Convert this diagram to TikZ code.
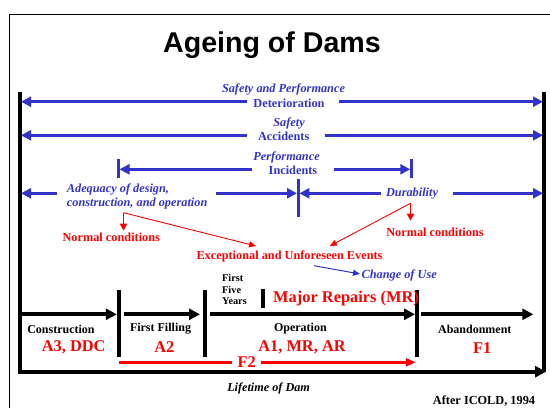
\documentclass[tikz,border=0pt]{standalone}
\usepackage{fontspec}
\setmainfont{Liberation Serif}
\newfontfamily\titlefont{Liberation Sans}
\usetikzlibrary{arrows.meta}
\definecolor{dblue}{RGB}{51,51,204}
\definecolor{dred}{RGB}{255,0,0}
\begin{document}
\begin{tikzpicture}[x=1pt,y=-1pt,
 bit/.style={text=dblue,font=\fontsize{12.3}{14}\selectfont\bfseries\itshape,inner sep=0},
 bup/.style={text=dblue,font=\fontsize{12.3}{14}\selectfont\bfseries,inner sep=0},
 rsm/.style={text=dred,font=\fontsize{12.3}{14}\selectfont\bfseries,inner sep=0},
 rbig/.style={text=dred,font=\fontsize{16.4}{18}\selectfont\bfseries,inner sep=0},
 ksm/.style={text=black,font=\fontsize{12}{14}\selectfont\bfseries,inner sep=0},
 barr/.style={draw=dblue,line width=3pt,-{Triangle[length=10pt,width=10pt]}},
 bbar/.style={draw=dblue,line width=3pt},
 karr/.style={draw=black,line width=4pt,-{Triangle[length=11pt,width=11pt]}},
 kbar/.style={draw=black,line width=4pt},
 rthin/.style={draw=dred,line width=0.9pt,-{Triangle[length=7pt,width=6pt]}},
 rvert/.style={draw=dred,line width=1.6pt,-{Triangle[length=7pt,width=7pt]}},
 rline/.style={draw=dred,line width=2.5pt},
 rarr/.style={draw=dred,line width=2.5pt,-{Triangle[length=10pt,width=8pt]}},
 bthin/.style={draw=dblue,line width=1pt,-{Triangle[length=7pt,width=6pt]}}
]
\useasboundingbox (0,0) rectangle (550,408);
% frame
\draw[line width=1pt] (9.5,408) -- (9.5,14.5) -- (550,14.5);
% title
\node[inner sep=0,anchor=base,font=\titlefont\fontsize{28.6}{30}\selectfont\bfseries] (title) at (272,52.6) {Ageing of Dams};

% main side bars
\coordinate (LT) at (20,92);
\coordinate (LB) at (20,371.7);
\coordinate (RT) at (544,92);
\coordinate (RB) at (544,371.7);
\draw[kbar] (LT) -- (LB);
\draw[kbar] (RT) -- (RB);

% row 1
\node[bit] (sp) at (283.5,89) {Safety and Performance};
\node[bup] (det) at (289,103.3) {Deterioration};
\coordinate (r1a) at (246.7,101.7);
\coordinate (r1b) at (338.6,101.7);
\coordinate (r1l) at (21,101.7);
\coordinate (r1r) at (543,101.7);
\draw[barr] (r1a) -- (r1l);
\draw[barr] (r1b) -- (r1r);

% row 2
\node[bit] (saf) at (289,123.3) {Safety};
\node[bup] (acc) at (283.7,136.7) {Accidents};
\coordinate (r2a) at (246.7,135.3);
\coordinate (r2b) at (324.6,135.3);
\coordinate (r2l) at (21,135.3);
\coordinate (r2r) at (543,135.3);
\draw[barr] (r2a) -- (r2l);
\draw[barr] (r2b) -- (r2r);

% row 3
\node[bit] (perf) at (286.6,157.3) {Performance};
\node[bup] (inc) at (293,170.7) {Incidents};
\coordinate (b3lt) at (118.6,159.3);
\coordinate (b3lb) at (118.6,178.3);
\coordinate (b3rt) at (411.2,159.3);
\coordinate (b3rb) at (411.2,178.3);
\draw[bbar] (b3lt) -- (b3lb);
\draw[bbar] (b3rt) -- (b3rb);
\coordinate (r3a) at (252,169.3);
\coordinate (r3b) at (334,169.3);
\coordinate (r3l) at (119.5,169.3);
\coordinate (r3r) at (410.3,169.3);
\draw[barr] (r3a) -- (r3l);
\draw[barr] (r3b) -- (r3r);

% row 4
\node[bit,align=left,anchor=north west,font=\fontsize{12.3}{14.3}\selectfont\bfseries\itshape] (adq) at (66.7,183.5) {Adequacy of design,\\construction, and operation};
\node[bit] (dur) at (412,193.3) {Durability};
\coordinate (cbt) at (298.2,179.3);
\coordinate (cbb) at (298.2,217.3);
\draw[bbar] (cbt) -- (cbb);
\coordinate (r4a) at (57,193.3);
\coordinate (r4l) at (21,193.3);
\coordinate (r4b) at (215.8,193.3);
\coordinate (r4c) at (297,193.3);
\coordinate (r4d) at (380.7,193.3);
\coordinate (r4e) at (299.4,193.3);
\coordinate (r4f) at (452.6,193.3);
\coordinate (r4r) at (543,193.3);
\draw[barr] (r4a) -- (r4l);
\draw[barr] (r4b) -- (r4c);
\draw[barr] (r4d) -- (r4e);
\draw[barr] (r4f) -- (r4r);

% red conditions
\node[rsm] (nc1) at (111.3,237.7) {Normal conditions};
\node[rsm] (nc2) at (435,232.7) {Normal conditions};
\node[rsm] (exc) at (289.5,256.7) {Exceptional and Unforeseen Events};
\coordinate (BL) at (123.5,212.7);
\coordinate (BLd) at (123.5,230.7);
\coordinate (BLe) at (256,246);
\coordinate (BR) at (410.5,203.3);
\coordinate (BRd) at (410.5,220.7);
\coordinate (BRe) at (329.8,246);
\draw[rvert] (BL) -- (BLd);
\draw[rthin] (BL) -- (BLe);
\draw[rvert] (BR) -- (BRd);
\draw[rthin] (BR) -- (BRe);

% change of use
\node[bit,anchor=west] (cou) at (361.4,275) {Change of Use};
\coordinate (cu1) at (314,265.7);
\coordinate (cu2) at (360,274);
\draw[bthin] (cu1) -- (cu2);

% timeline
\coordinate (t1t) at (118.6,290); \coordinate (t1b) at (118.6,357.3);
\coordinate (t2t) at (205.3,290); \coordinate (t2b) at (205.3,357.3);
\coordinate (t3t) at (416.8,290); \coordinate (t3b) at (416.8,357.3);
\coordinate (t4t) at (262.5,289.3); \coordinate (t4b) at (262.5,308.3);
\draw[kbar] (t1t) -- (t1b);
\draw[kbar] (t2t) -- (t2b);
\draw[kbar] (t3t) -- (t3b);
\draw[kbar] (t4t) -- (t4b);
\coordinate (a1s) at (20,314.3); \coordinate (a1e) at (116.8,314.3);
\coordinate (a2s) at (123.5,314.3); \coordinate (a2e) at (200,314.3);
\coordinate (a3s) at (209.8,314.3); \coordinate (a3e) at (415,314.3);
\coordinate (a4s) at (421,314.3); \coordinate (a4e) at (533.3,314.3);
\draw[karr] (a1s) -- (a1e);
\draw[karr] (a2s) -- (a2e);
\draw[karr] (a3s) -- (a3e);
\draw[karr] (a4s) -- (a4e);

\node[ksm,align=left,anchor=north west,font=\fontsize{10.3}{11.7}\selectfont\bfseries] (ffy) at (222,274) {First\\Five\\Years};
\node[rbig,anchor=west] (mr) at (273,299) {Major Repairs (MR)};

\node[ksm] (con) at (61,329) {Construction};
\node[ksm] (ff) at (160.5,329) {First Filling};
\node[ksm] (op) at (300.4,329) {Operation};
\node[ksm] (ab) at (474.8,329.3) {Abandonment};
\node[rbig] (a3) at (73.7,347.3) {A3, DDC};
\node[rbig] (a2) at (164.4,347.3) {A2};
\node[rbig] (a1) at (302,347.3) {A1, MR, AR};
\node[rbig] (f1) at (482.3,347.7) {F1};

% F2
\node[rbig] (f2) at (246.7,362) {F2};
\coordinate (f2a) at (231.6,362.3); \coordinate (f2l) at (118.6,362.3);
\coordinate (f2b) at (261.4,362.3); \coordinate (f2r) at (415.8,362.3);
\draw[rline] (f2a) -- (f2l);
\draw[rarr] (f2b) -- (f2r);

% bottom axis
\coordinate (axs) at (18,371.7); \coordinate (axe) at (546,371.7);
\draw[karr] (axs) -- (axe);

\node[ksm,font=\fontsize{12.2}{14}\selectfont\bfseries\itshape] (life) at (268.6,388.3) {Lifetime of Dam};
\node[ksm,font=\fontsize{12.3}{14}\selectfont\bfseries] (icold) at (484,401) {After ICOLD, 1994};
\end{tikzpicture}
\end{document}
